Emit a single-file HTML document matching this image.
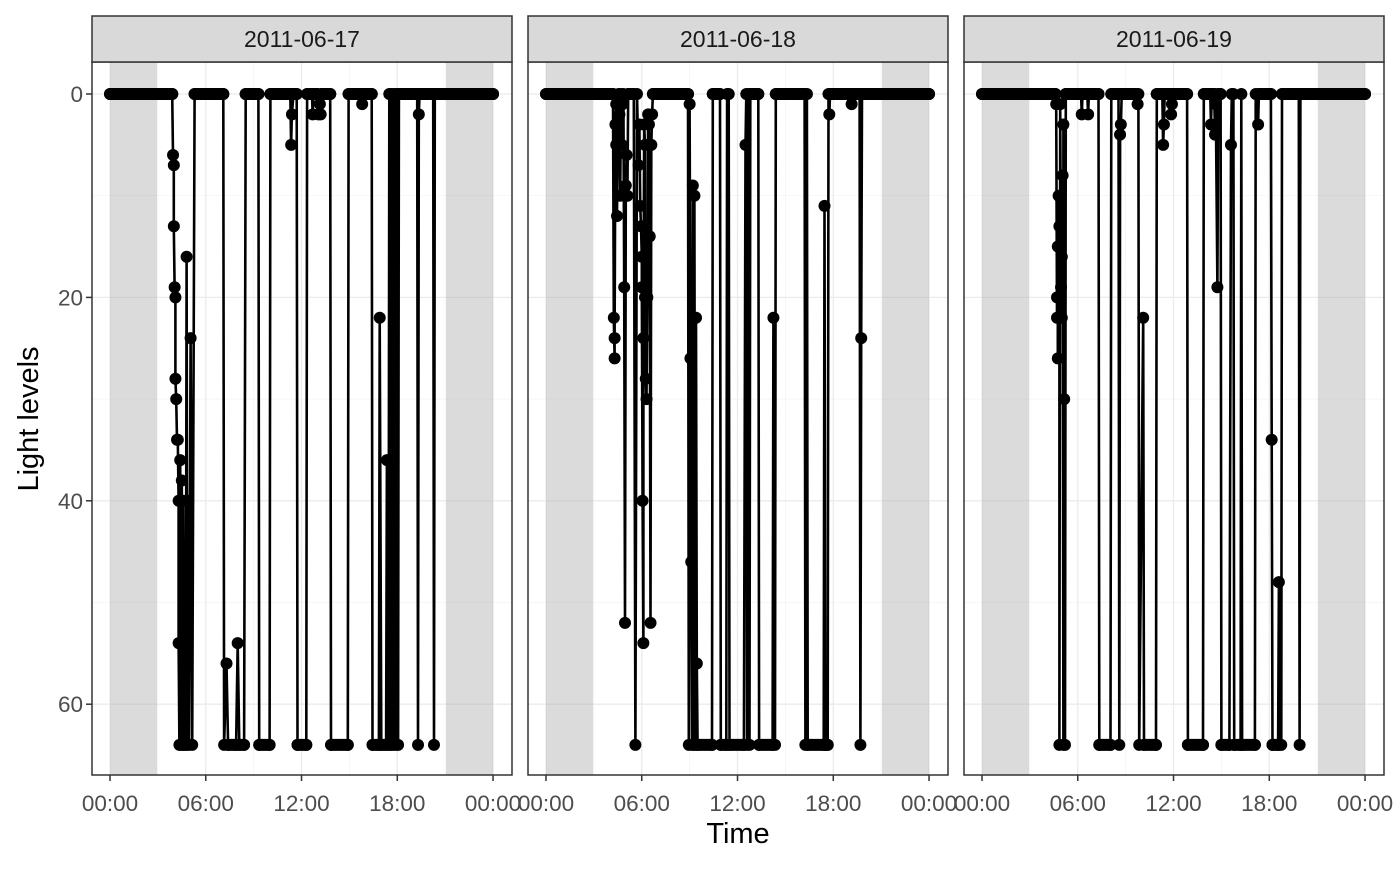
<!DOCTYPE html>
<html><head><meta charset="utf-8"><style>
body{margin:0;background:#fff}
svg text{font-family:"Liberation Sans",Arial,sans-serif}
</style></head><body>
<svg id="chart" width="1400" height="866" viewBox="0 0 1400 866" xmlns="http://www.w3.org/2000/svg">
<rect width="1400" height="866" fill="#fff"/>
</svg>
<script>
const dayLabels = ["2011-06-17","2011-06-18","2011-06-19"];
const xTickLabels = ["00:00","06:00","12:00","18:00","00:00"];
const yTickValues = [0,20,40,60];
const nightStart = 2.95, nightEnd = 21.05;
const day1Times = [0,3.9,3.95,4.0,4.0,4.05,4.1,4.1,4.15,4.2,4.25,4.3,4.3,4.35,4.4,4.45,4.5,4.55,4.6,4.65,4.7,4.75,4.8,4.85,4.9,4.95,5.05,5.15,5.3,7.1,7.15,7.3,7.4,7.9,8.0,8.1,8.4,8.5,9.3,9.35,10.0,10.05,11.3,11.35,11.4,11.5,11.7,11.75,12.3,12.35,12.65,12.7,12.75,13.0,13.05,13.15,13.2,13.25,13.8,13.85,14.9,14.95,15.75,15.8,15.85,16.4,16.45,16.85,16.9,17.0,17.3,17.35,17.45,17.5,17.55,17.6,17.65,17.7,17.8,17.85,17.95,18.0,18.05,18.1,19.25,19.3,19.35,19.4,20.25,20.3,20.35,24];
const day1Values = [0,0,6,7,13,19,20,28,30,34,34,40,54,64,36,64,38,64,40,64,45,64,16,64,40,64,24,64,0,0,64,56,64,64,54,64,64,0,0,64,64,0,0,5,2,0,0,64,64,0,0,2,0,0,2,1,2,0,0,64,64,0,0,1,0,0,64,64,22,64,64,36,64,0,64,0,64,0,64,0,64,0,64,0,0,64,2,0,0,64,0,0];
const day2Times = [0,4.2,4.25,4.3,4.3,4.35,4.4,4.4,4.45,4.5,4.55,4.6,4.65,4.7,4.75,4.8,4.85,4.9,4.95,5.0,5.05,5.1,5.15,5.5,5.6,5.7,5.8,5.85,5.9,5.95,6.0,6.0,6.05,6.1,6.1,6.15,6.2,6.2,6.25,6.3,6.35,6.4,6.45,6.5,6.55,6.6,6.65,6.7,8.9,8.95,9.0,9.05,9.1,9.15,9.2,9.25,9.3,9.35,9.4,9.45,9.5,10.4,10.45,10.9,10.95,11.3,11.35,11.45,11.5,12.4,12.5,12.55,12.6,12.7,12.75,12.8,13.3,13.35,14.2,14.25,14.35,14.4,16.2,16.25,16.35,16.4,17.4,17.45,17.5,17.65,17.7,17.75,17.8,19.1,19.15,19.2,19.65,19.7,19.75,19.8,24];
const day2Values = [0,0,22,26,24,3,1,5,12,3,0,2,10,0,5,1,0,19,52,9,6,10,0,0,64,0,7,3,11,13,16,19,40,54,24,3,5,20,28,30,20,2,3,14,52,5,2,0,0,64,1,26,46,64,9,64,10,64,22,56,64,64,0,0,64,64,0,0,64,64,5,0,64,0,64,0,0,64,64,22,64,0,0,64,0,64,64,11,64,64,0,2,0,0,1,0,0,64,24,0,0];
const day3Times = [0,4.6,4.65,4.7,4.7,4.75,4.75,4.8,4.85,4.85,4.9,4.95,5.0,5.0,5.05,5.1,5.1,5.15,5.2,5.25,6.2,6.25,6.3,6.6,6.65,6.7,7.3,7.35,8.05,8.1,8.55,8.6,8.65,8.7,8.75,9.7,9.75,9.8,9.85,10.1,10.15,10.9,10.95,11.3,11.35,11.4,11.45,11.8,11.85,11.9,11.95,12.85,12.9,13.85,13.9,14.3,14.35,14.4,14.55,14.6,14.65,14.75,14.8,14.95,15.0,15.5,15.6,15.65,15.75,15.8,16.2,16.25,16.3,17.1,17.15,17.3,17.35,18.1,18.15,18.2,18.55,18.6,18.65,18.75,18.8,19.85,19.9,19.95,24];
const day3Values = [0,0,1,22,20,15,26,10,13,64,1,19,22,16,8,64,3,30,64,0,0,2,0,0,2,0,0,64,64,0,0,64,4,3,0,0,1,0,64,22,64,64,0,0,5,3,0,0,2,1,0,0,64,64,0,0,3,0,0,4,1,19,0,0,64,64,5,0,0,64,64,0,64,64,0,3,0,0,34,64,64,48,64,64,0,0,64,0,0];
const dayTimes=[day1Times,day2Times,day3Times];
const dayValues=[day1Values,day2Values,day3Values];

const NS="http://www.w3.org/2000/svg";
const svg=document.getElementById('chart');
function el(tag,attrs,parent){const e=document.createElementNS(NS,tag);for(const k in attrs)e.setAttribute(k,attrs[k]);(parent||svg).appendChild(e);return e;}
const panelW=420, panelGap=16, firstX=92, plotTop=62, plotBot=775;
function xScale(p,t){return firstX+p*(panelW+panelGap)+18+t*15.96;}
function yScale(v){return 94+v*10.17;}

for(let p=0;p<3;p++){
  const x0=firstX+p*(panelW+panelGap);
  const g=el('g',{});
  
  
  [10,30,50].forEach(v=>{const l=el('line',{x1:x0,x2:x0+panelW,y1:yScale(v),y2:yScale(v),stroke:'#f3f3f3','stroke-width':0.7},g);});
  [3,9,15,21].forEach(t=>{const l=el('line',{x1:xScale(p,t),x2:xScale(p,t),y1:plotTop,y2:plotBot,stroke:'#f3f3f3','stroke-width':0.7},g);});
  yTickValues.forEach(v=>{const l=el('line',{x1:x0,x2:x0+panelW,y1:yScale(v),y2:yScale(v),stroke:'#ebebeb','stroke-width':1.3},g);});
  xTickLabels.forEach((s,i)=>{const l=el('line',{x1:xScale(p,i*6),x2:xScale(p,i*6),y1:plotTop,y2:plotBot,stroke:'#ebebeb','stroke-width':1.3},g);});
  const n1=el('rect',{x:xScale(p,0),y:plotTop,width:xScale(p,nightStart)-xScale(p,0),height:plotBot-plotTop,fill:'#b0b0b0','fill-opacity':0.45},g);
  
  const n2=el('rect',{x:xScale(p,nightEnd),y:plotTop,width:xScale(p,24)-xScale(p,nightEnd),height:plotBot-plotTop,fill:'#b0b0b0','fill-opacity':0.45},g);
  
  const T=dayTimes[p], V=dayValues[p];
  let d='';
  for(let i=0;i<T.length;i++){d+=(i?'L':'M')+xScale(p,T[i]).toFixed(1)+' '+yScale(V[i]).toFixed(1);}
  const path=el('path',{d:d,fill:'none',stroke:'#000','stroke-width':2.6},g);
  
  for(let i=0;i+1<T.length;i++){
    if(V[i]===V[i+1] && T[i+1]-T[i]>0.12){
      const r=el('line',{x1:xScale(p,T[i]),x2:xScale(p,T[i+1]),y1:yScale(V[i]),y2:yScale(V[i]),stroke:'#000','stroke-width':12,'stroke-linecap':'round'},g);
      
    }
  }
  for(let i=0;i<T.length;i++){
    const c=el('circle',{cx:xScale(p,T[i]),cy:yScale(V[i]),r:6,fill:'#000'},g);
    
  }
  const b=el('rect',{x:x0,y:plotTop,width:panelW,height:plotBot-plotTop,fill:'none',stroke:'#333','stroke-width':1.5},g);
  
  const s=el('rect',{x:x0,y:16,width:panelW,height:46,fill:'#d9d9d9',stroke:'#333','stroke-width':1.5},g);
  
  const st=el('text',{x:x0+panelW/2,y:47,'text-anchor':'middle','font-size':23,fill:'#1a1a1a'},g);
  st.textContent=dayLabels[p];
  
  xTickLabels.forEach((s2,i)=>{
    const xx=xScale(p,i*6);
    const tk=el('line',{x1:xx,x2:xx,y1:plotBot,y2:plotBot+6,stroke:'#333','stroke-width':1.5},g);
    
    const tt=el('text',{x:xx,y:811,'text-anchor':'middle','font-size':22.5,fill:'#4d4d4d'},g);
    tt.textContent=s2;
    
  });
}
yTickValues.forEach(v=>{
  const tk=el('line',{x1:86,x2:92,y1:yScale(v),y2:yScale(v),stroke:'#333','stroke-width':1.5});
  
  const tt=el('text',{x:83,y:yScale(v)+8,'text-anchor':'end','font-size':22.5,fill:'#4d4d4d'});
  tt.textContent=v;
  
});
const xt=el('text',{x:738,y:843,'text-anchor':'middle','font-size':29,fill:'#000'});
xt.textContent='Time';

const yt=el('text',{x:0,y:0,'text-anchor':'middle','font-size':29,fill:'#000',transform:'translate(38,419) rotate(-90)'});
yt.textContent='Light levels';

</script>
</body></html>
